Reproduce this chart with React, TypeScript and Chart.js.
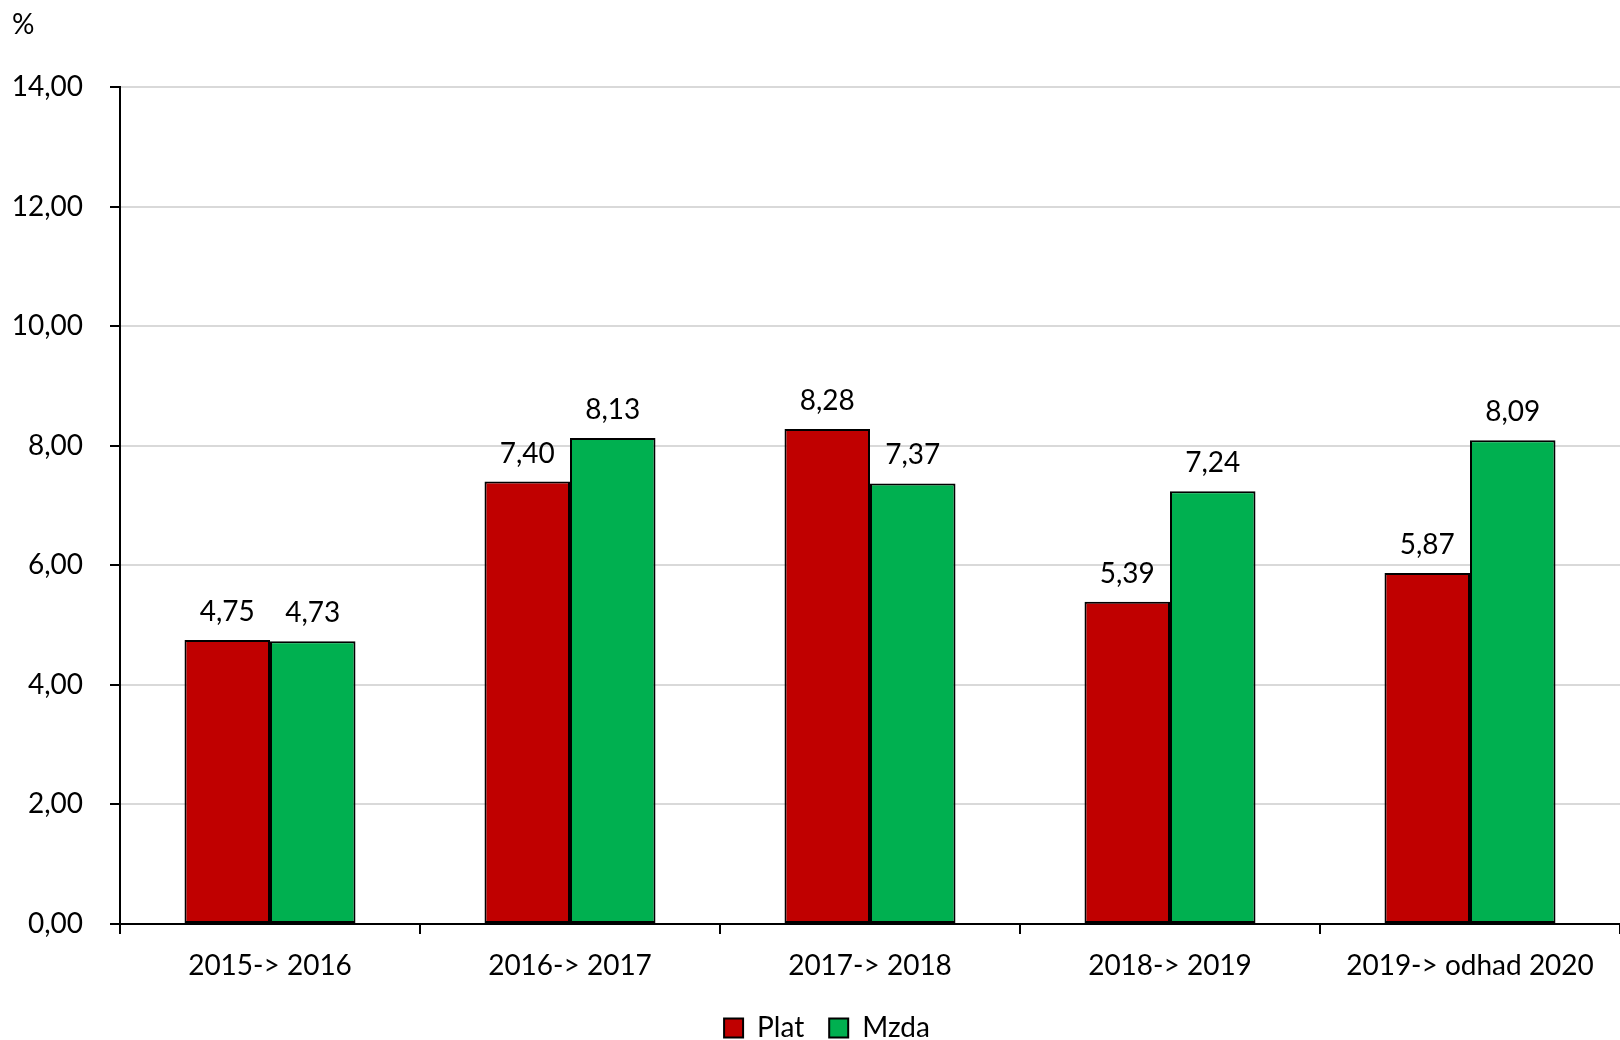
import { useEffect, useRef } from 'react';
import { Chart, registerables } from 'chart.js';

Chart.register(...registerables);

const categories = ['2015-> 2016', '2016-> 2017', '2017-> 2018', '2018-> 2019', '2019-> odhad 2020'];
const platValues = [4.75, 7.4, 8.28, 5.39, 5.87];
const mzdaValues = [4.73, 8.13, 7.37, 7.24, 8.09];
const seriesNames = ['Plat', 'Mzda'];
const seriesColors = ['#C00000', '#00B050'];
const yMin = 0;
const yMax = 14;
const yStep = 2;
const yAxisTitle = '%';

const FONT = 'Lato, "Open Sans", sans-serif';
const FS = 28;
const fmt = (v: number) => v.toFixed(2).replace('.', ',');

const labelsPlugin = {
  id: 'barLabels',
  afterDatasetsDraw(chart: any) {
    const ctx = chart.ctx;
    ctx.save();
    ctx.font = `${FS}px ${FONT}`;
    ctx.fillStyle = '#000';
    ctx.textAlign = 'center';
    ctx.textBaseline = 'alphabetic';
    chart.data.datasets.forEach((ds: any, i: number) => {
      const meta = chart.getDatasetMeta(i);
      meta.data.forEach((bar: any, j: number) => {
        ctx.fillText(fmt(ds.data[j]), bar.x, bar.y - 19);
      });
    });
    ctx.restore();
  },
};

const titlePlugin = {
  id: 'yTitle',
  afterDraw(chart: any) {
    const ctx = chart.ctx;
    ctx.save();
    ctx.font = `${FS}px ${FONT}`;
    ctx.fillStyle = '#000';
    ctx.textAlign = 'left';
    ctx.textBaseline = 'middle';
    ctx.fillText(yAxisTitle, 12, 25);
    ctx.restore();
  },
};

const legendShiftPlugin = {
  id: 'legendShift',
  afterLayout(chart: any) {
    const lg = chart.legend;
    if (lg) {
      lg.left += 17;
      lg.right += 17;
    }
  },
};

export default function App() {
  const ref = useRef<HTMLCanvasElement | null>(null);
  useEffect(() => {
    if (!ref.current) return;
    const chart = new Chart(ref.current, {
      type: 'bar',
      data: {
        labels: categories,
        datasets: [
          {
            label: seriesNames[0],
            data: platValues,
            backgroundColor: seriesColors[0],
            borderColor: '#000',
            borderWidth: 2,
            borderSkipped: false,
          },
          {
            label: seriesNames[1],
            data: mzdaValues,
            backgroundColor: seriesColors[1],
            borderColor: '#000',
            borderWidth: 2,
            borderSkipped: false,
          },
        ],
      },
      options: {
        animation: false,
        responsive: true,
        maintainAspectRatio: false,
        layout: { padding: { top: 87, right: 0, left: 0, bottom: -12 } },
        datasets: { bar: { categoryPercentage: 0.57, barPercentage: 1 } },
        plugins: {
          legend: {
            position: 'bottom',
            labels: {
              font: { family: FONT, size: FS },
              color: '#000',
              boxWidth: 19,
              boxHeight: 19,
              padding: 25,
            },
          },
          tooltip: { enabled: false },
        },
        scales: {
          x: {
            afterFit: (s: any) => { s.height = 65; },
            grid: {
              display: true,
              drawOnChartArea: false,
              drawTicks: true,
              tickLength: 10,
              color: '#000',
              lineWidth: 2,
              offset: true,
            },
            border: { display: true, color: '#000', width: 2 },
            ticks: { font: { family: FONT, size: FS }, color: '#000', padding: 15, maxRotation: 0 },
          },
          y: {
            min: yMin,
            max: yMax,
            afterFit: (s: any) => { s.width = 120; },
            grid: {
              color: '#d9d9d9',
              lineWidth: 2,
              tickColor: '#000',
              tickLength: 10,
              drawTicks: true,
            },
            border: { display: true, color: '#000', width: 2 },
            ticks: {
              stepSize: yStep,
              font: { family: FONT, size: FS },
              color: '#000',
              padding: 27,
              callback: (v: any) => fmt(Number(v)),
            },
          },
        },
      },
      plugins: [labelsPlugin, titlePlugin, legendShiftPlugin],
    } as any);
    return () => chart.destroy();
  }, []);
  return (
    <div style={{ position: 'fixed', left: 0, top: 0, width: 1620, height: 1040, background: '#fff' }}>
      <canvas ref={ref} />
    </div>
  );
}
